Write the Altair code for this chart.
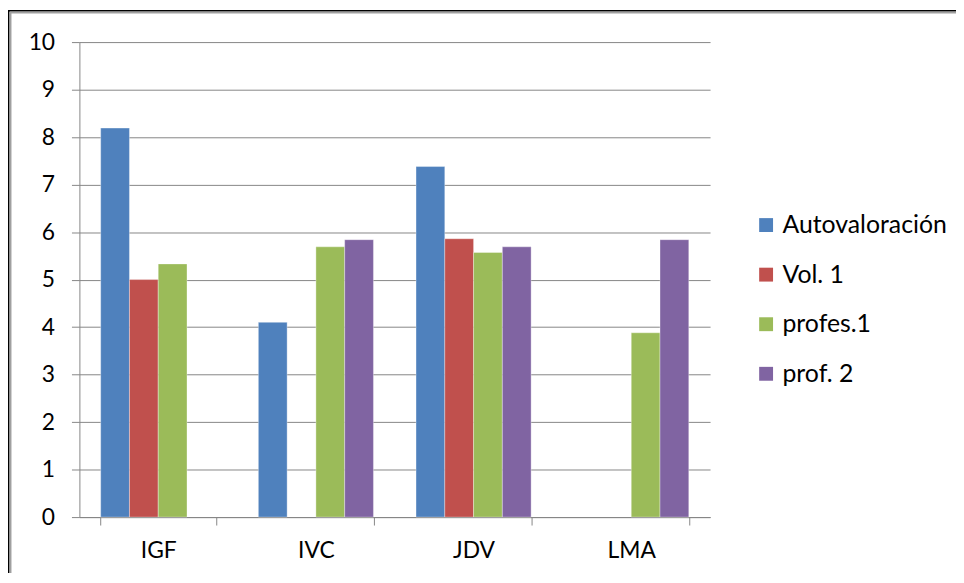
import altair as alt
import pandas as pd

categories = ["IGF", "IVC", "JDV", "LMA"]
series = ["Autovaloración", "Vol. 1", "profes.1", "prof. 2"]
colors = ["#4F81BD", "#C0504D", "#9BBB59", "#8064A2"]

autovaloracion = [8.19, 4.10, 7.38, None]
vol1 = [5.00, None, 5.86, None]
profes1 = [5.33, 5.69, 5.57, 3.88]
prof2 = [None, 5.84, 5.69, 5.84]

rows = []
for s, vals in zip(series, [autovaloracion, vol1, profes1, prof2]):
    for c, v in zip(categories, vals):
        if v is not None:
            rows.append({"cat": c, "serie": s, "valor": v})
df = pd.DataFrame(rows)

FONT = "Lato"
FS = 23
LFS = 25
PW, PH = 636, 479

bars = alt.Chart(df).mark_bar(stroke="white", strokeOpacity=0.35, strokeWidth=1).encode(
    x=alt.X("cat:N", sort=categories, title=None,
            scale=alt.Scale(paddingInner=0.27, paddingOuter=0.135),
            axis=alt.Axis(labelAngle=0, tickBand="extent", tickSize=8, labelPadding=15,
                          domainColor="#868686", tickColor="#868686", grid=False,
                          labelFont=FONT, labelFontSize=FS, labelColor="black")),
    xOffset=alt.XOffset("serie:N", sort=series, scale=alt.Scale(domain=series, paddingInner=0, paddingOuter=0)),
    y=alt.Y("valor:Q", title=None,
            scale=alt.Scale(domain=[0, 10], nice=False),
            axis=alt.Axis(values=list(range(0, 11)), tickSize=8, labelPadding=17,
                          domainColor="#868686", tickColor="#868686",
                          gridColor="#868686", gridWidth=1,
                          labelFont=FONT, labelFontSize=FS, labelColor="black")),
    color=alt.Color("serie:N", sort=series,
                    scale=alt.Scale(domain=series, range=colors),
                    legend=alt.Legend(title=None, orient="none", legendX=680, legendY=172,
                                      symbolType="square", symbolSize=196, symbolStrokeWidth=0,
                                      labelFont=FONT, labelFontSize=LFS, labelColor="black",
                                      labelLimit=400, labelOffset=4, rowPadding=24, padding=0)),
)

one = pd.DataFrame({"a": [0]})
border = [
    alt.Chart(one).mark_rule(color="black", strokeWidth=2).encode(
        x=alt.value(-71.5), y=alt.value(-32), y2=alt.value(540)),
    alt.Chart(one).mark_rule(color="#a0a0a0", strokeWidth=2).encode(
        x=alt.value(-69.5), y=alt.value(-29.5), y2=alt.value(540)),
    alt.Chart(one).mark_rule(color="black", strokeWidth=1.5).encode(
        y=alt.value(-31.5), x=alt.value(-72), x2=alt.value(884)),
    alt.Chart(one).mark_rule(color="#a0a0a0", strokeWidth=1.5).encode(
        y=alt.value(-29.7), x=alt.value(-70.5), x2=alt.value(884)),
]

chart = alt.layer(bars, *border).properties(
    width=PW, height=PH,
    autosize=alt.AutoSizeParams(type="none"),
    padding={"left": 72, "top": 32, "right": 956 - 72 - PW, "bottom": 565 - 32 - PH},
    background="white",
).configure_view(stroke=None)

chart.save("out.html", embed_options={"renderer": "svg", "actions": False})
